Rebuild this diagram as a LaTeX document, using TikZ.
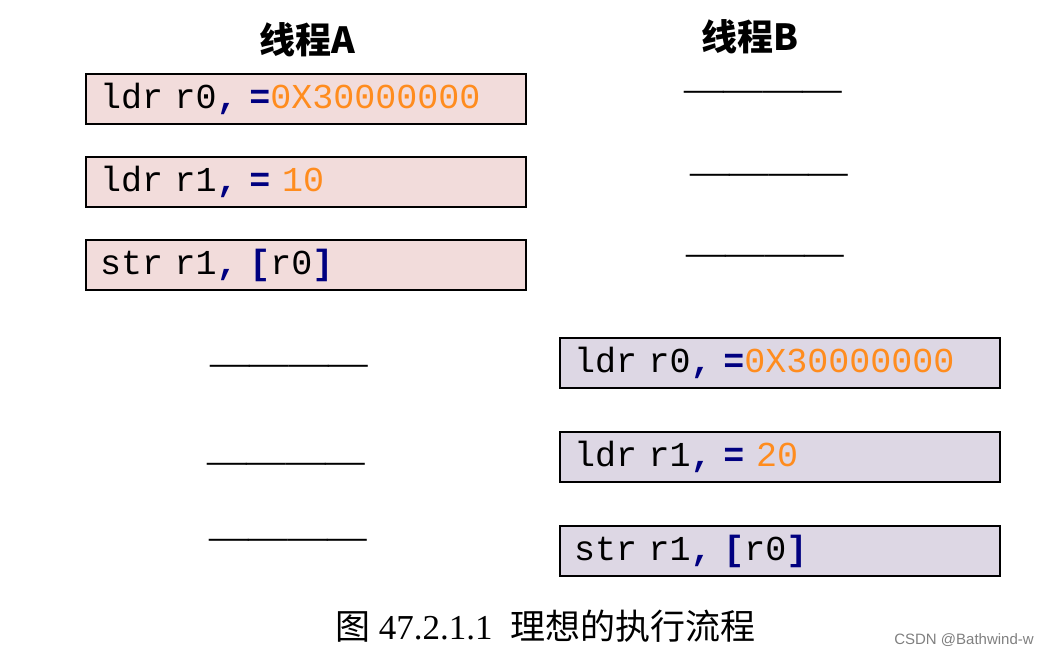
\documentclass[tikz,border=0pt]{standalone}
\usepackage{fontspec}
\setmainfont{Liberation Serif}
\newfontfamily\cjk{Noto Sans CJK SC}
\newfontfamily\codefont{Liberation Mono}
\newfontfamily\marksans{Liberation Sans}
\usetikzlibrary{positioning}

\definecolor{boxA}{RGB}{242,220,219}
\definecolor{boxB}{RGB}{221,215,228}
\definecolor{kwblue}{RGB}{0,0,128}
\definecolor{valorange}{RGB}{255,140,30}
\newcommand{\kw}[1]{\textcolor{kwblue}{\bfseries #1}}
\newcommand{\hexval}[1]{\textcolor{valorange}{#1}}
\newcommand{\waitline}{————}

\tikzset{
  codebox/.style={draw, line width=2pt, minimum height=50pt, inner ysep=0pt,
    inner xsep=14pt, text width=412pt, align=left,
    font=\codefont\fontsize{35}{38}\selectfont},
  title/.style={font=\cjk\bfseries\fontsize{36}{40}\selectfont},
  idle/.style={inner sep=0pt, font=\fontsize{39.5}{40}\selectfont}
}

\begin{document}
\begin{tikzpicture}[x=1pt, y=-1pt]
  \useasboundingbox[fill=white] (0,0) rectangle (1051,655);
  % ---------------- thread A
  \node[title] (titleA) at (307,40) {线程A};
  \node[codebox, fill=boxA] (a1) at (306,99)  {ldr r0\kw{,} \kw{=}\hexval{0X30000000}};
  \node[codebox, fill=boxA] (a2) at (306,182) {ldr r1\kw{,} \kw{=} \hexval{10}};
  \node[codebox, fill=boxA] (a3) at (306,265) {str r1\kw{,} \kw{[}r0\kw{]}};
  \node[idle] (wa1) at (289,370) {\waitline};
  \node[idle] (wa2) at (286,468) {\waitline};
  \node[idle] (wa3) at (288,544) {\waitline};
  % ---------------- thread B
  \node[title] (titleB) at (750,37) {线程B};
  \node[idle] (wb1) at (763,96)  {\waitline};
  \node[idle] (wb2) at (769,179) {\waitline};
  \node[idle] (wb3) at (765,260) {\waitline};
  \node[codebox, fill=boxB] (b1) at (780,363) {ldr r0\kw{,} \kw{=}\hexval{0X30000000}};
  \node[codebox, fill=boxB] (b2) at (780,457) {ldr r1\kw{,} \kw{=} \hexval{20}};
  \node[codebox, fill=boxB] (b3) at (780,551) {str r1\kw{,} \kw{[}r0\kw{]}};
  % ---------------- caption
  \node[font=\fontsize{35}{38}\selectfont] (caption) at (545,626)
    {{\cjk 图} 47.2.1.1\ \ {\cjk 理想的执行流程}};
  \node[font=\marksans\fontsize{15}{17}\selectfont, text=gray] (mark) at (964,640) {CSDN @Bathwind-w};
\end{tikzpicture}
\end{document}
